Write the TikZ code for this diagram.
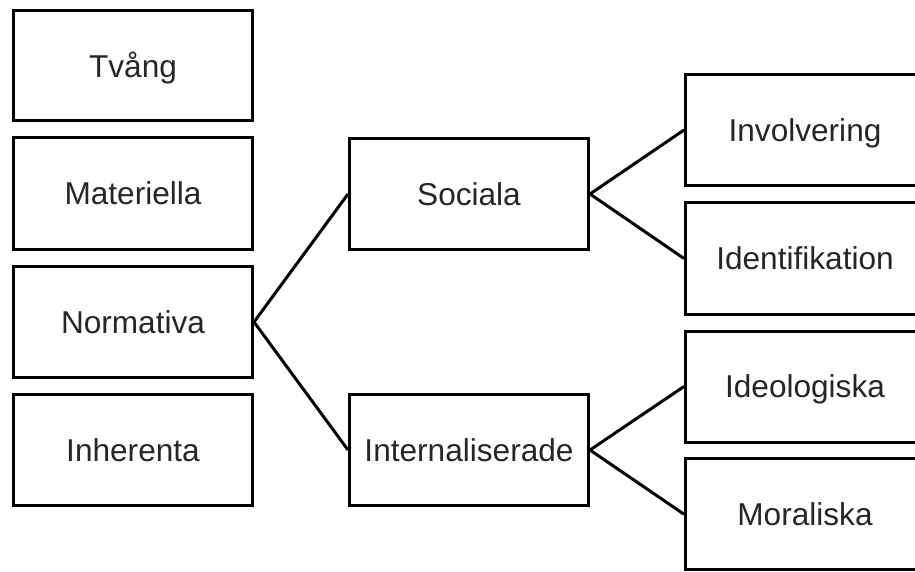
\documentclass[tikz,border=0pt]{standalone}
\usepackage{fontspec}
\setmainfont{Liberation Sans}
\begin{document}
\begin{tikzpicture}[x=1pt,y=-1pt,
  box/.style={draw=black,line width=3pt,fill=white,minimum width=239pt,minimum height=111pt,
    inner sep=0pt,text height=22.6pt,text depth=0pt,font=\fontsize{31.6pt}{36pt}\selectfont,text=black!85},
  link/.style={line width=3pt,black}]
\useasboundingbox (0,0) rectangle (915,572);
\clip (0,0) rectangle (915,572);
\node[box,minimum height=110.5pt] (tvang) at (133,65.75) {Tvång};
\node[box] (materiella) at (133,193.5) {Materiella};
\node[box] (normativa) at (133,322) {Normativa};
\node[box] (inherenta) at (133,450) {Inherenta};
\node[box] (sociala) at (469,194) {Sociala};
\node[box] (internal) at (469,450) {Internaliserade};
\node[box] (involvering) at (805,130) {Involvering};
\node[box] (identifikation) at (805,258.5) {Identifikation};
\node[box] (ideologiska) at (805,386.5) {Ideologiska};
\node[box] (moraliska) at (805,514.25) {Moraliska};
\draw[link] (normativa.east) -- (sociala.west);
\draw[link] (normativa.east) -- (internal.west);
\draw[link] (sociala.east) -- (involvering.west);
\draw[link] (sociala.east) -- (identifikation.west);
\draw[link] (internal.east) -- (ideologiska.west);
\draw[link] (internal.east) -- (moraliska.west);
\end{tikzpicture}
\end{document}
